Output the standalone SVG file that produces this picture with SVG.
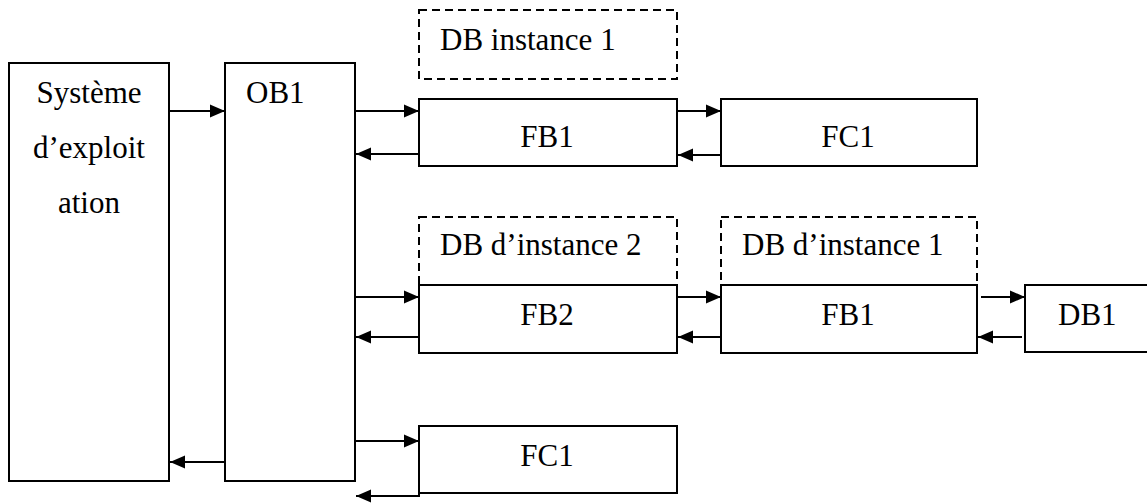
<svg xmlns="http://www.w3.org/2000/svg" width="1147" height="503" viewBox="0 0 1147 503">
<defs>
<marker id="ah" markerUnits="userSpaceOnUse" markerWidth="16" markerHeight="14" viewBox="0 0 16 14" refX="15" refY="7" orient="auto">
<path d="M0,0.5 L15,7 L0,13.5 Z" fill="#000"/>
</marker>
<style>
.box{fill:#fff;stroke:#000;stroke-width:2}
.dash{fill:none;stroke:#000;stroke-width:2;stroke-dasharray:8 5}
text{font-family:'Liberation Serif','DejaVu Serif',serif;font-size:31px;fill:#000}
.m{text-anchor:middle}
.c{fill:none;stroke:#000;stroke-width:2;marker-end:url(#ah)}
</style>
</defs>
<rect width="1147" height="503" fill="#fff"/>
<g id="systeme">
<rect class="box" x="9" y="63" width="160" height="418"/>
<text class="m" x="89" y="103">Système</text>
<text class="m" x="89" y="158">d’exploit</text>
<text class="m" x="89" y="213">ation</text>
</g>
<g id="ob1">
<rect class="box" x="225" y="63" width="130" height="418"/>
<text x="246" y="103">OB1</text>
</g>
<g id="db-instance-1-top">
<rect class="dash" x="419" y="10" width="258" height="69"/>
<text x="440" y="50">DB instance 1</text>
</g>
<g id="fb1-top">
<rect class="box" x="419" y="99" width="258" height="67"/>
<text class="m" x="547" y="147">FB1</text>
</g>
<g id="fc1-top">
<rect class="box" x="721" y="99" width="256" height="67"/>
<text class="m" x="848" y="147">FC1</text>
</g>
<g id="db-instance-2">
<rect class="dash" x="419" y="217" width="258" height="68"/>
<text x="440" y="255">DB d’instance 2</text>
</g>
<g id="fb2">
<rect class="box" x="419" y="285" width="258" height="68"/>
<text class="m" x="547" y="325">FB2</text>
</g>
<g id="db-instance-1-mid">
<rect class="dash" x="721" y="217" width="256" height="68"/>
<text x="742" y="255">DB d’instance 1</text>
</g>
<g id="fb1-mid">
<rect class="box" x="721" y="285" width="256" height="68"/>
<text class="m" x="848" y="325">FB1</text>
</g>
<g id="db1">
<rect class="box" x="1025" y="285" width="130" height="67"/>
<text x="1058" y="325">DB1</text>
</g>
<g id="fc1-bottom">
<rect class="box" x="419" y="426" width="258" height="67"/>
<text class="m" x="547" y="466">FC1</text>
</g>
<g id="connectors">
<line class="c" x1="169" y1="111" x2="225" y2="111"/>
<line class="c" x1="355" y1="111" x2="419" y2="111"/>
<line class="c" x1="419" y1="154" x2="356" y2="154"/>
<line class="c" x1="677" y1="111" x2="721" y2="111"/>
<line class="c" x1="721" y1="155" x2="678" y2="155"/>
<line class="c" x1="355" y1="297" x2="419" y2="297"/>
<line class="c" x1="419" y1="337" x2="356" y2="337"/>
<line class="c" x1="677" y1="297" x2="721" y2="297"/>
<line class="c" x1="721" y1="337" x2="678" y2="337"/>
<line class="c" x1="981" y1="297" x2="1025" y2="297"/>
<line class="c" x1="1022" y1="337" x2="978" y2="337"/>
<line class="c" x1="355" y1="441" x2="419" y2="441"/>
<polyline class="c" points="419,493 419,496 356,496"/>
<line class="c" x1="225" y1="462" x2="170" y2="462"/>
</g>
</svg>
